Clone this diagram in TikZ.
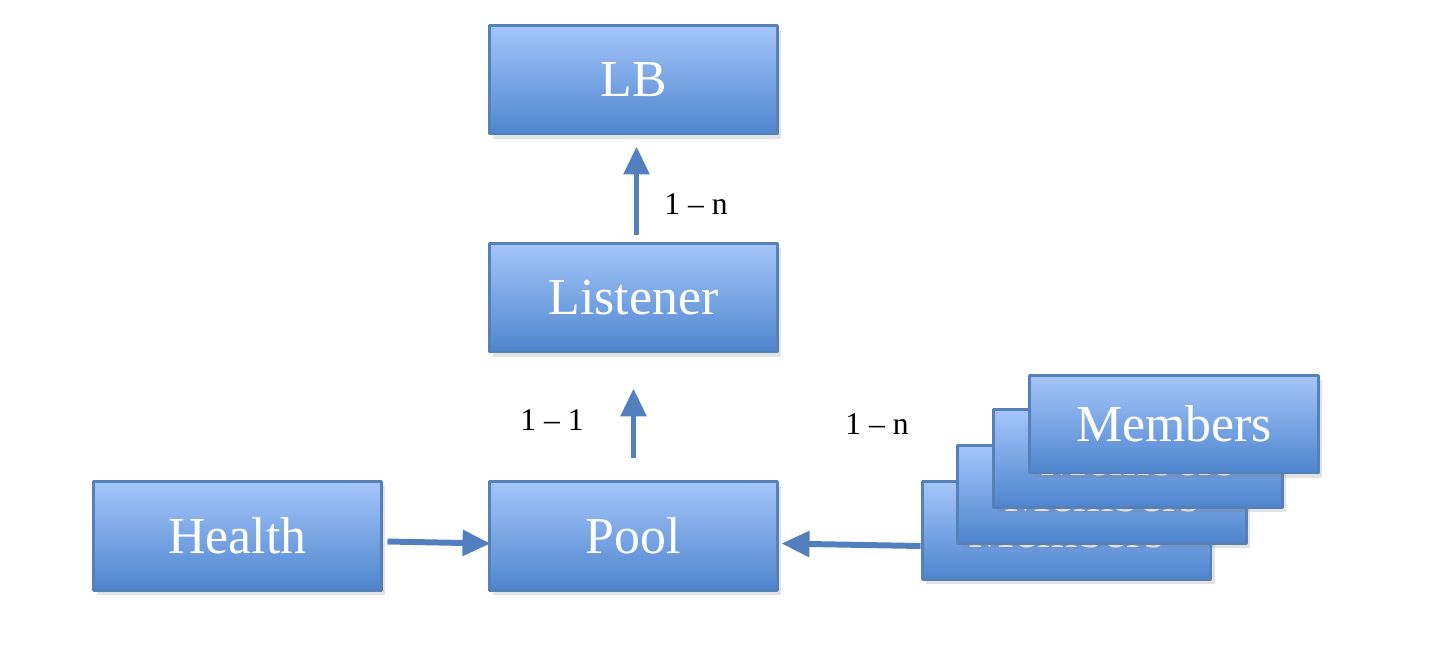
\documentclass[tikz,border=0pt]{standalone}
\usepackage{fontspec}
\setmainfont{Liberation Serif}
\usetikzlibrary{arrows.meta,shadows,calc}
\definecolor{boxtop}{RGB}{165,198,250}
\definecolor{boxmid}{RGB}{138,176,236}
\definecolor{boxbot}{RGB}{78,133,206}
\definecolor{boxline}{RGB}{85,128,184}
\definecolor{linkblue}{RGB}{82,127,189}
\begin{document}
\begin{tikzpicture}[x=0.02cm, y=-0.02cm, line join=round,
  entity/.style={draw=boxline, line width=1.7pt, top color=boxtop,
    middle color=boxmid, bottom color=boxbot, text=white,
    minimum width=5.78cm, minimum height=2.18cm, inner sep=0pt,
    font=\fontsize{29.5}{31}\selectfont,
    drop shadow={opacity=0.22, shadow xshift=2pt, shadow yshift=-3pt}},
  member/.style={entity, minimum height=1.96cm},
  link/.style={draw=linkblue, line width=3.4pt,
    -{Triangle[width=0.5cm,length=0.56cm]}},
  card/.style={font=\fontsize{18}{20}\selectfont}]
\useasboundingbox (0,0) rectangle (1452,664);
% boxes
\node[entity] (LB) at (633.5,79.5) {LB};
\node[entity] (Listener) at (633.5,297.5) {Listener};
\node[entity] (Pool) at (633.5,535.5) {Pool};
\node[entity] (Health) at (237.5,535.5) {Health};
% stacked members, back to front
\node[member] (M1) at (1066.5,530) {Members};
\node[member] (M2) at (1102,494) {Members};
\node[member] (M3) at (1138,458) {Members};
\node[member] (M4) at (1174,424) {Members};
% links
\draw[link] ($(Listener.north)+(3,-7)$) -- ($(LB.south)+(3,11)$);
\draw[link] ($(Pool.north)+(0,-22)$) -- ($(Listener.south)+(0,35)$);
\draw[link] ($(Health.east)+(4,6)$) -- ($(Pool.west)+(3,8)$);
\draw[link] ($(M1.west)+(0,16)$) -- ($(Pool.east)+(2,8)$);
% cardinalities
\node[card] (cLB) at (696,204) {1 – n};
\node[card] (cPool) at (552,420) {1 – 1};
\node[card] (cMem) at (877,424) {1 – n};
\end{tikzpicture}
\end{document}
